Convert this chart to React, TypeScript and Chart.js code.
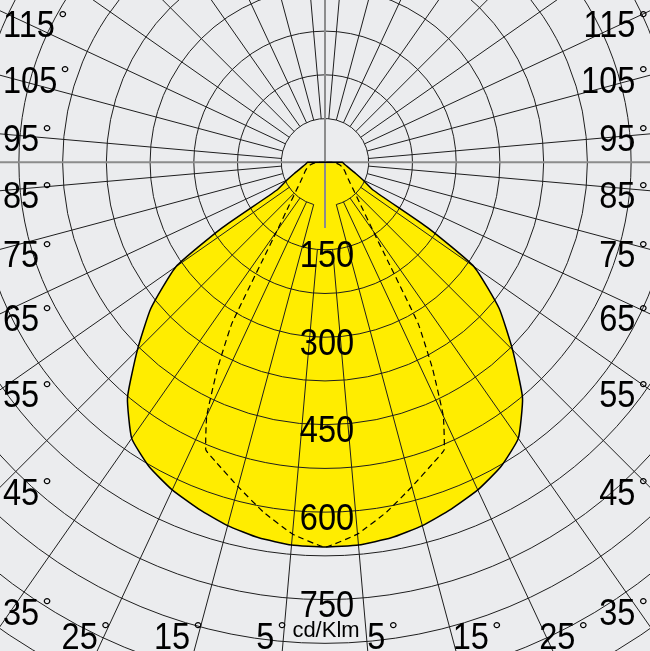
import React, { useEffect, useRef } from 'react';
import { Chart, registerables } from 'chart.js';

Chart.register(...registerables);

// C0-C180 plane (solid, filled): gamma (deg from nadir) and intensity (cd/klm)
const C0_GAMMA = [0, 5, 10, 15, 20, 25, 30, 35, 40, 45, 50, 55, 57.5, 60, 65, 70, 75, 80, 85, 90, 95];
const C0_CD = [660, 659, 654, 645, 633, 620, 603, 578, 527, 455, 390, 312, 210, 95, 72, 56, 45, 38, 33, 30, 0];

// C90-C270 plane (dashed)
const C90_GAMMA = [0, 5, 10, 15, 20, 22.5, 25, 27.5, 30, 32.5, 35, 40, 45, 50, 55, 60, 65, 70, 75, 80, 85, 90, 95];
const C90_CD = [660, 640, 609, 576, 547, 534, 480, 400, 320, 200, 144, 95, 71, 57, 48, 42, 38, 34, 30, 26, 20, 12, 0];

const RING_STEP = 75;
const RING_LABELS = [150, 300, 450, 600, 750];
const SPOKES = [5, 15, 25, 35, 45, 55, 65, 75, 85, 95, 105, 115, 125, 135, 145, 155, 165, 175];
const SIDE_LABELS = [115, 105, 95, 85, 75, 65, 55, 45, 35];
const BOTTOM_LABELS = [25, 15, 5];
const UNIT = 'cd/Klm';

// layout / style
const W = 650;
const H = 651;
const CX = 325;
const CY = 162.3;
const PX_PER_CD = 43.73 / 75;
const BG = '#ebecee';
const YELLOW = '#ffed00';
const GRID = '#1e1e1e';
const AXIS = '#8c8c8c';
const FONT = '"Liberation Sans", Arial, Helvetica, sans-serif';
const NUM_PX = 37;
const NUM_SX = 0.88;
const NUM_H = 27;
const DEG_PX = 24;
const deg = Math.PI / 180;

function polarPoints(gammas: number[], values: number[]) {
  const pts: { x: number; y: number }[] = [];
  for (let i = gammas.length - 1; i >= 0; i--) {
    const g = gammas[i] * deg;
    pts.push({ x: -values[i] * Math.sin(g), y: -values[i] * Math.cos(g) });
  }
  for (let i = 1; i < gammas.length; i++) {
    const g = gammas[i] * deg;
    pts.push({ x: values[i] * Math.sin(g), y: -values[i] * Math.cos(g) });
  }
  return pts;
}

function numWidth(ctx: CanvasRenderingContext2D, text: string) {
  ctx.save();
  ctx.font = `${NUM_PX}px ${FONT}`;
  const w = ctx.measureText(text).width * NUM_SX;
  ctx.restore();
  return w;
}

function degWidth(ctx: CanvasRenderingContext2D) {
  ctx.save();
  ctx.font = `${DEG_PX}px ${FONT}`;
  const w = ctx.measureText('\u00b0').width;
  ctx.restore();
  return w;
}

function drawNum(ctx: CanvasRenderingContext2D, text: string, x: number, yc: number, align: CanvasTextAlign) {
  ctx.save();
  ctx.font = `${NUM_PX}px ${FONT}`;
  ctx.textAlign = align;
  ctx.textBaseline = 'alphabetic';
  ctx.translate(x, yc + NUM_H / 2);
  ctx.scale(NUM_SX, 1);
  ctx.fillText(text, 0, 0);
  ctx.restore();
}

function drawDeg(ctx: CanvasRenderingContext2D, x: number, top: number) {
  ctx.save();
  ctx.font = `${DEG_PX}px ${FONT}`;
  ctx.textAlign = 'left';
  ctx.textBaseline = 'top';
  ctx.fillText('\u00b0', x, top - 2);
  ctx.restore();
}

// label "NN°" with its number starting at x
function drawAngleLabel(ctx: CanvasRenderingContext2D, a: number, left: number, yc: number) {
  const nw = numWidth(ctx, String(a));
  drawNum(ctx, String(a), left, yc, 'left');
  drawDeg(ctx, left + nw + 3, yc - NUM_H / 2);
}

const polarPlugin = {
  id: 'polarGrid',
  beforeDatasetsDraw(chart: any) {
    const { ctx, scales } = chart;
    const xs = scales.x;
    const ys = scales.y;
    const cx = xs.getPixelForValue(0);
    const cy = ys.getPixelForValue(0);
    const rOf = (v: number) => xs.getPixelForValue(v) - cx;
    const w = chart.width;
    const h = chart.height;
    const rMax = Math.hypot(Math.max(cx, w - cx), Math.max(cy, h - cy)) + 2;
    ctx.save();
    ctx.strokeStyle = GRID;
    ctx.lineWidth = 1;
    for (let v = RING_STEP; rOf(v) <= rMax; v += RING_STEP) {
      ctx.beginPath();
      if (v === RING_STEP) ctx.arc(cx, cy, rOf(v), 105 * deg, 435 * deg);
      else ctx.arc(cx, cy, rOf(v), 0, 2 * Math.PI);
      ctx.stroke();
    }
    for (const a of SPOKES) {
      for (const s of [-1, 1]) {
        const r0 = rOf(a === 5 ? 2 * RING_STEP : RING_STEP);
        const dx = s * Math.sin(a * deg);
        const dy = Math.cos(a * deg);
        ctx.beginPath();
        ctx.moveTo(cx + r0 * dx, cy + r0 * dy);
        ctx.lineTo(cx + rMax * dx, cy + rMax * dy);
        ctx.stroke();
      }
    }
    ctx.strokeStyle = AXIS;
    ctx.lineWidth = 2;
    ctx.beginPath();
    ctx.moveTo(0, cy);
    ctx.lineTo(w, cy);
    ctx.moveTo(cx, 0);
    ctx.lineTo(cx, cy + rOf(1.5 * RING_STEP));
    ctx.stroke();
    ctx.restore();
  },
  afterDatasetsDraw(chart: any) {
    const { ctx, scales } = chart;
    const xs = scales.x;
    const ys = scales.y;
    const cx = xs.getPixelForValue(0);
    const cy = ys.getPixelForValue(0);
    const w = chart.width;
    ctx.save();
    ctx.fillStyle = '#000';
    // ring values along nadir
    for (const v of RING_LABELS) {
      drawNum(ctx, String(v), cx + 2, ys.getPixelForValue(-v) + 4, 'center');
    }
    // unit
    ctx.font = `22px ${FONT}`;
    ctx.textAlign = 'center';
    ctx.textBaseline = 'alphabetic';
    ctx.fillText(UNIT, cx + 1, 637);
    const dw = degWidth(ctx);
    // side labels
    for (const a of SIDE_LABELS) {
      const g = a * deg;
      const y0 = cy + cx * Math.cos(g) / Math.sin(g);
      const yc = Math.min(Math.max(y0 + 4, 10 + NUM_H / 2), 611);
      drawAngleLabel(ctx, a, 3, yc);
      const nw = numWidth(ctx, String(a));
      drawAngleLabel(ctx, a, w - 2 - dw - 3 - nw, yc);
    }
    // bottom labels
    const ycB = 635;
    for (const a of BOTTOM_LABELS) {
      const t = Math.tan(a * deg);
      const nw = numWidth(ctx, String(a));
      const xl = cx - (628 - cy) * t;
      drawAngleLabel(ctx, a, Math.max(xl - 10 - nw, 60), ycB);
      const xr = cx + (ycB - cy) * t + 1;
      drawAngleLabel(ctx, a, Math.min(xr, 588 - nw - 3 - dw), ycB);
    }
    ctx.restore();
  },
};

export default function App() {
  const ref = useRef<HTMLCanvasElement>(null);
  useEffect(() => {
    const canvas = ref.current;
    if (!canvas) return;
    const chart = new Chart(canvas, {
      type: 'scatter',
      data: {
        datasets: [
          {
            data: polarPoints(C0_GAMMA, C0_CD),
            showLine: true,
            fill: 'shape',
            backgroundColor: YELLOW,
            borderColor: '#000',
            borderWidth: 1.5,
            pointRadius: 0,
            tension: 0.15,
          },
          {
            data: polarPoints(C90_GAMMA, C90_CD),
            showLine: true,
            fill: false,
            borderColor: '#000',
            borderWidth: 1.2,
            borderDash: [6, 4],
            pointRadius: 0,
            tension: 0.1,
          },
        ],
      } as any,
      options: {
        animation: false,
        responsive: false,
        events: [],
        layout: { padding: 0 },
        scales: {
          x: { type: 'linear', display: false, min: -CX / PX_PER_CD, max: (W - CX) / PX_PER_CD },
          y: { type: 'linear', display: false, min: -(H - CY) / PX_PER_CD, max: CY / PX_PER_CD },
        },
        plugins: {
          legend: { display: false },
          tooltip: { enabled: false },
          filler: { drawTime: 'beforeDraw' } as any,
        },
      } as any,
      plugins: [polarPlugin],
    });
    return () => chart.destroy();
  }, []);
  return (
    <div style={{ position: 'absolute', left: 0, top: 0, width: W, height: H, overflow: 'hidden', background: BG }}>
      <canvas ref={ref} width={W} height={H} style={{ display: 'block', width: W, height: H }} />
    </div>
  );
}
